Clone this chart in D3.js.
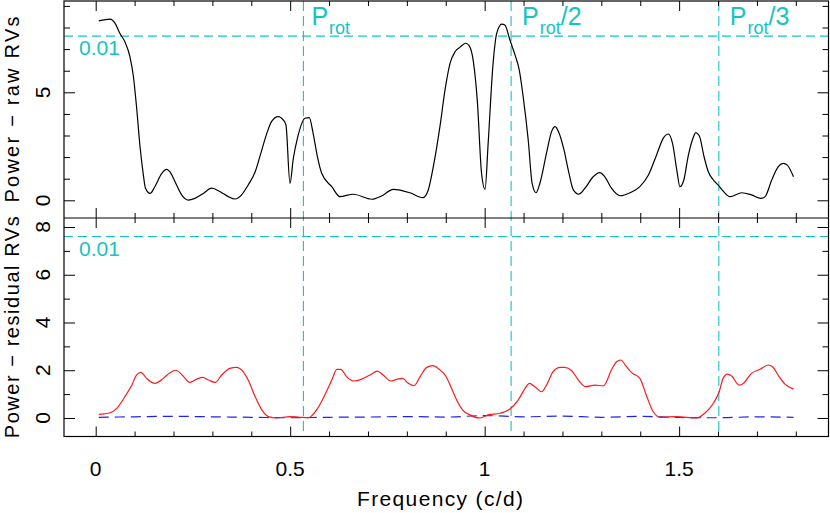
<!DOCTYPE html>
<html><head><meta charset="utf-8">
<script src="https://cdn.jsdelivr.net/npm/d3@7"></script>
<style>
body{margin:0;background:#fff}
svg{display:block}
text{font-family:"Liberation Sans",Arial,sans-serif}
</style></head>
<body><svg id="c" width="830" height="513"></svg>
<script>
// ---------- data ----------
const freqRaw = [0.008,0.037,0.050,0.062,0.075,0.088,0.097,0.105,0.114,0.122,0.128,0.140,0.152,0.170,0.182,0.191,0.204,0.221,0.238,0.255,0.277,0.298,0.320,0.341,0.358,0.375,0.392,0.410,0.422,0.440,0.452,0.469,0.478,0.489,0.4995,0.508,0.519,0.538,0.549,0.559,0.570,0.581,0.607,0.628,0.662,0.710,0.735,0.765,0.808,0.841,0.855,0.868,0.885,0.898,0.911,0.924,0.936,0.951,0.960,0.971,0.981,0.992,1.001,1.009,1.021,1.031,1.044,1.052,1.065,1.078,1.089,1.099,1.112,1.122,1.132,1.142,1.159,1.172,1.181,1.191,1.204,1.215,1.228,1.242,1.258,1.279,1.296,1.309,1.326,1.348,1.374,1.399,1.421,1.442,1.459,1.472,1.483,1.494,1.502,1.512,1.523,1.534,1.543,1.552,1.564,1.575,1.588,1.600,1.613,1.631,1.661,1.686,1.710,1.721,1.738,1.755,1.768,1.778,1.794];
const powerRaw = [8.31,8.39,8.19,7.73,7.34,6.65,5.72,4.33,2.48,1.25,0.56,0.32,0.63,1.25,1.43,1.32,0.86,0.25,0.01,0.09,0.32,0.56,0.40,0.17,0.06,0.25,0.71,1.32,2.02,3.10,3.64,3.87,3.80,3.50,0.78,1.93,2.90,3.80,3.83,3.10,2.02,1.25,0.63,0.17,0.28,0.05,0.20,0.51,0.35,0.12,0.48,1.56,3.41,5.10,6.34,6.88,7.08,7.27,7.16,6.42,4.64,1.25,0.51,2.64,6.19,7.73,8.16,8.12,7.42,6.73,6.03,4.80,2.79,0.79,0.35,0.79,2.18,3.18,3.41,3.13,2.33,1.40,0.48,0.28,0.56,1.09,1.28,1.09,0.56,0.21,0.35,0.63,1.17,2.10,2.87,3.07,2.64,1.40,0.63,0.94,2.02,2.79,3.13,2.98,2.02,1.32,0.94,0.71,0.43,0.17,0.35,0.25,0.09,0.17,0.94,1.56,1.71,1.63,1.09];

const freqResid = [0.008,0.037,0.054,0.075,0.093,0.105,0.116,0.131,0.152,0.174,0.191,0.206,0.224,0.242,0.260,0.275,0.290,0.307,0.324,0.345,0.362,0.379,0.392,0.410,0.427,0.444,0.465,0.4995,0.525,0.547,0.568,0.589,0.607,0.620,0.630,0.645,0.662,0.684,0.705,0.724,0.739,0.759,0.774,0.789,0.804,0.818,0.834,0.851,0.866,0.883,0.900,0.915,0.928,0.943,0.962,0.988,1.009,1.039,1.065,1.086,1.104,1.115,1.129,1.147,1.159,1.176,1.194,1.206,1.224,1.241,1.260,1.284,1.305,1.326,1.339,1.350,1.363,1.378,1.399,1.417,1.433,1.451,1.494,1.545,1.566,1.588,1.603,1.613,1.624,1.635,1.654,1.665,1.686,1.708,1.729,1.740,1.757,1.772,1.794];
const powerResid = [0.15,0.22,0.40,0.89,1.38,1.80,1.91,1.66,1.45,1.66,1.90,2.00,1.77,1.49,1.63,1.70,1.59,1.49,1.80,2.08,2.12,1.94,1.59,0.89,0.34,0.06,0.00,0.06,0.03,0.01,0.34,0.96,1.59,2.04,2.04,1.73,1.55,1.63,1.80,1.96,1.80,1.55,1.62,1.66,1.45,1.35,1.73,2.12,2.19,2.04,1.76,1.24,0.75,0.34,0.13,0.00,0.13,0.20,0.38,0.75,1.24,1.45,1.31,1.10,1.38,1.94,2.12,2.12,1.98,1.59,1.31,1.38,1.34,2.01,2.36,2.43,2.18,1.90,1.66,0.89,0.27,0.03,0.06,0.00,0.20,0.62,1.10,1.66,1.84,1.76,1.38,1.45,1.87,2.04,2.22,2.15,1.73,1.42,1.21];

const freqWindow = [0.008,0.1,0.2,0.3,0.4,0.5,0.6,0.7,0.8,0.9,1.0,1.1,1.2,1.3,1.4,1.5,1.6,1.7,1.794];
const powerWindow = [0.03,0.05,0.07,0.05,0.03,0.01,0.03,0.04,0.06,0.04,0.10,0.05,0.08,0.03,0.07,0.02,0.01,0.05,0.03];

const fapLevel = 7.6;           // 0.01 false-alarm level
const fapLabel = "0.01";
const rotFreqs = [0.534, 1.068, 1.602];
const rotSuffix = ["", "/2", "/3"];
const xTickLabels = [0, 0.5, 1, 1.5];
const yTopLabels = [0, 5];
const yBotLabels = [0, 2, 4, 6, 8];

// ---------- layout ----------
const L = 64, R = 828.5, T1 = 1, B1 = 218, T2 = 218, B2 = 436.5;
const CYAN = "#16c3c3";
const svg = d3.select("#c");

const x = d3.scaleLinear().domain([-0.0815, 1.884]).range([L, R]);
const yTop = d3.scaleLinear().domain([-0.819, 9.227]).range([B1, T1]);
const yBot = d3.scaleLinear().domain([-0.775, 8.377]).range([B2, T2]);

const xMinor = d3.range(0, 19).map(i => i / 10).filter(v => Math.abs(v * 2 - Math.round(v * 2)) > 1e-6);
const xMajor = [0, 0.5, 1, 1.5];

function frameTicks(g, y, yMinor, yMajor, top, bottom) {
  const mk = (gen) => { const a = g.append("g").call(gen); a.select(".domain").remove(); a.selectAll("line").attr("stroke", "#000"); return a; };
  mk(g => g.attr("transform", `translate(0,${bottom})`).call(d3.axisBottom(x).tickValues(xMinor).tickSize(-5).tickFormat("")));
  mk(g => g.attr("transform", `translate(0,${bottom})`).call(d3.axisBottom(x).tickValues(xMajor).tickSize(-10).tickFormat("")));
  mk(g => g.attr("transform", `translate(0,${top})`).call(d3.axisTop(x).tickValues(xMinor).tickSize(-5).tickFormat("")));
  mk(g => g.attr("transform", `translate(0,${top})`).call(d3.axisTop(x).tickValues(xMajor).tickSize(-10).tickFormat("")));
  mk(g => g.attr("transform", `translate(${L},0)`).call(d3.axisLeft(y).tickValues(yMinor).tickSize(-6).tickFormat("")));
  mk(g => g.attr("transform", `translate(${L},0)`).call(d3.axisLeft(y).tickValues(yMajor).tickSize(-11).tickFormat("")));
  mk(g => g.attr("transform", `translate(${R},0)`).call(d3.axisRight(y).tickValues(yMinor).tickSize(-6).tickFormat("")));
  mk(g => g.attr("transform", `translate(${R},0)`).call(d3.axisRight(y).tickValues(yMajor).tickSize(-11).tickFormat("")));
  g.selectAll(".tick text").remove();
  g.attr("font-size", null);
}

// clip paths
const defs = svg.append("defs");
defs.append("clipPath").attr("id", "c1").append("rect").attr("x", L).attr("y", T1).attr("width", R - L).attr("height", B1 - T1);
defs.append("clipPath").attr("id", "c2").append("rect").attr("x", L).attr("y", T2).attr("width", R - L).attr("height", B2 - T2);

// ---- vertical rotation lines (span both panels)
svg.append("g").selectAll("line").data(rotFreqs).join("line")
  .attr("x1", d => x(d)).attr("x2", d => x(d)).attr("y1", T1).attr("y2", B2)
  .attr("stroke", CYAN).attr("stroke-width", 1.1).attr("stroke-dasharray", "10,5");

// ---- FAP lines
svg.append("line").attr("x1", L).attr("x2", R).attr("y1", yTop(fapLevel)).attr("y2", yTop(fapLevel))
  .attr("stroke", CYAN).attr("stroke-width", 1.1).attr("stroke-dasharray", "9,5");
svg.append("line").attr("x1", L).attr("x2", R).attr("y1", yBot(fapLevel)).attr("y2", yBot(fapLevel))
  .attr("stroke", CYAN).attr("stroke-width", 1.1).attr("stroke-dasharray", "9,5");

// ---- curves
const rawData = freqRaw.map((f, i) => [f, powerRaw[i]]);
const resData = freqResid.map((f, i) => [f, powerResid[i]]);
const winData = freqWindow.map((f, i) => [f, powerWindow[i]]);

svg.append("path").datum(rawData).attr("clip-path", "url(#c1)")
  .attr("d", d3.line().x(d => x(d[0])).y(d => yTop(d[1])).curve(d3.curveMonotoneX))
  .attr("fill", "none").attr("stroke", "#000").attr("stroke-width", 1.2);

svg.append("path").datum(winData).attr("clip-path", "url(#c2)")
  .attr("d", d3.line().x(d => x(d[0])).y(d => yBot(d[1])).curve(d3.curveMonotoneX))
  .attr("fill", "none").attr("stroke", "#2222ee").attr("stroke-width", 1.2).attr("stroke-dasharray", "10,6");

svg.append("path").datum(resData).attr("clip-path", "url(#c2)")
  .attr("d", d3.line().x(d => x(d[0])).y(d => yBot(d[1])).curve(d3.curveMonotoneX))
  .attr("fill", "none").attr("stroke", "#ff1a1a").attr("stroke-width", 1.2);

// ---- frames
svg.append("rect").attr("x", L).attr("y", T1).attr("width", R - L).attr("height", B2 - T1)
  .attr("fill", "none").attr("stroke", "#000").attr("stroke-width", 1.2);
svg.append("line").attr("x1", L).attr("x2", R).attr("y1", B1).attr("y2", B1).attr("stroke", "#000").attr("stroke-width", 1.2);

const yTopMajor = [0, 5], yTopMinor = [1, 2, 3, 4, 6, 7, 8, 9];
const yBotMajor = [0, 2, 4, 6, 8], yBotMinor = [1, 3, 5, 7];
frameTicks(svg.append("g"), yTop, yTopMinor, yTopMajor, T1, B1);
frameTicks(svg.append("g"), yBot, yBotMinor, yBotMajor, T2, B2);

// ---- tick labels
const FS = 21;
svg.append("g").selectAll("text").data(xTickLabels).join("text")
  .attr("x", d => x(d)).attr("y", 476).attr("text-anchor", "middle")
  .attr("font-size", FS).attr("fill", "#000").text(d => d);

svg.append("g").selectAll("text").data(yTopLabels).join("text")
  .attr("transform", d => `translate(50,${yTop(d)}) rotate(-90)`).attr("text-anchor", "middle")
  .attr("font-size", FS).attr("fill", "#000").text(d => d);
svg.append("g").selectAll("text").data(yBotLabels).join("text")
  .attr("transform", d => `translate(50,${yBot(d)}) rotate(-90)`).attr("text-anchor", "middle")
  .attr("font-size", FS).attr("fill", "#000").text(d => d);

// ---- axis titles
svg.append("text").attr("transform", `translate(19,${(T1 + B1) / 2}) rotate(-90)`).attr("text-anchor", "middle")
  .attr("font-size", 20).attr("textLength", 186).attr("lengthAdjust", "spacing").text("Power \u2212 raw RVs");
svg.append("text").attr("transform", `translate(19,${(T2 + B2) / 2}) rotate(-90)`).attr("text-anchor", "middle")
  .attr("font-size", 20).attr("textLength", 222).attr("lengthAdjust", "spacing").text("Power \u2212 residual RVs");
svg.append("text").attr("x", 440).attr("y", 506).attr("text-anchor", "middle")
  .attr("font-size", FS).attr("textLength", 166).attr("lengthAdjust", "spacing").text("Frequency (c/d)");

// ---- FAP labels
svg.append("text").attr("x", 79).attr("y", yTop(fapLevel) + 19).attr("font-size", FS).attr("fill", CYAN).text(fapLabel);
svg.append("text").attr("x", 79).attr("y", yBot(fapLevel) + 19).attr("font-size", FS).attr("fill", CYAN).text(fapLabel);

// ---- rotation labels
const rl = svg.append("g").selectAll("text").data(rotFreqs).join("text")
  .attr("x", (d, i) => x(d) + (i === 0 ? 8 : 11)).attr("y", 25).attr("fill", CYAN).attr("font-size", 25);
rl.append("tspan").text("P");
rl.append("tspan").attr("font-size", 18).attr("dy", 9).attr("dx", 1).text("rot");
rl.append("tspan").attr("dy", -9).text((d, i) => rotSuffix[i]);
</script></body></html>
